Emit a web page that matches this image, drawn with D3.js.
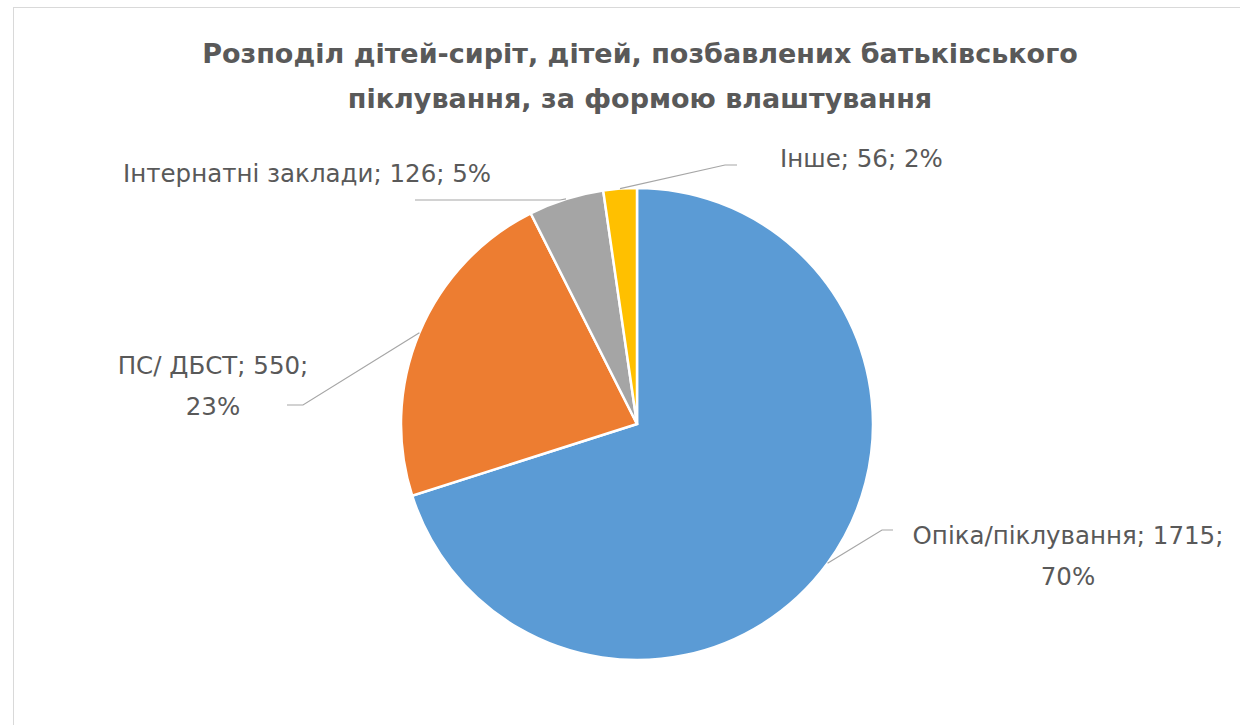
<!DOCTYPE html>
<html>
<head>
<meta charset="utf-8">
<script src="https://cdn.jsdelivr.net/npm/d3@7"></script>
<style>
  body { margin: 0; background: #fff; }
  svg text { font-family: 'DejaVu Sans', 'Open Sans', sans-serif; fill: #595959; }
</style>
</head>
<body>
<div id="graf"></div>
<script>
// Datos
categorias = ['Опіка/піклування', 'ПС/ ДБСТ', 'Інтернатні заклади', 'Інше']
valores    = [1715, 550, 126, 56]
porcentajes = ['70%', '23%', '5%', '2%']
colores    = ['#5B9BD5', '#ED7D31', '#A5A5A5', '#FFC000']
titulo     = ['Розподіл дітей-сиріт, дітей, позбавлених батьківського', 'піклування, за формою влаштування']

ancho_total = 1240
alto_total  = 725
centro = { x: 637, y: 424 }
radio = 236

svg = d3.select('#graf').append('svg')
        .attr('width', ancho_total)
        .attr('height', alto_total)

// Borde del area del grafico
svg.append('rect')
   .attr('x', 13.5).attr('y', 7.5)
   .attr('width', ancho_total).attr('height', alto_total)
   .attr('fill', '#fff')
   .attr('stroke', '#d9d9d9')

// Titulo
svg.append('text')
   .attr('text-anchor', 'middle')
   .style('font-size', '27px')
   .style('font-weight', 'bold')
   .selectAll('tspan')
   .data(titulo)
   .join('tspan')
   .attr('x', 640)
   .attr('y', (d, i) => 63 + i * 45)
   .text(d => d)

datos = categorias.map((c, i) => ({ cat: c, val: valores[i], pct: porcentajes[i], color: colores[i] }))

pie = d3.pie().sort(null).value(d => d.val)
arco = d3.arc().innerRadius(0).outerRadius(radio)
arcos = pie(datos)

g = svg.append('g')
       .attr('transform', `translate(${ centro.x }, ${ centro.y })`)

g.selectAll('path')
 .data(arcos)
 .join('path')
 .attr('d', arco)
 .attr('fill', d => d.data.color)
 .attr('stroke', '#fff')
 .attr('stroke-width', 2.5)

// Etiquetas: posicion del texto y codo de la linea guia (relativo al centro)
etiquetas = [
  { lineas: d => [d.cat + '; ' + d.val + ';', d.pct], x: 431, y: 120, anchor: 'middle', codo: [[245, 106], [256, 106]] },
  { lineas: d => [d.cat + '; ' + d.val + ';', d.pct], x: -424, y: -50, anchor: 'middle', codo: [[-334, -19], [-350, -19]] },
  { lineas: d => [d.cat + '; ' + d.val + '; ' + d.pct], x: -514, y: -242, anchor: 'start', codo: [[-77, -224], [-222, -224]] },
  { lineas: d => [d.cat + '; ' + d.val + '; ' + d.pct], x: 143, y: -257, anchor: 'start', codo: [[88, -259], [100, -259]] }
]

arcos.forEach((a, i) => {
  let e = etiquetas[i]
  let ang = (a.startAngle + a.endAngle) / 2
  let inicio = [radio * Math.sin(ang), -radio * Math.cos(ang)]
  g.append('polyline')
   .attr('points', [inicio].concat(e.codo).map(p => p.join(',')).join(' '))
   .attr('fill', 'none')
   .attr('stroke', '#a6a6a6')
   .attr('stroke-width', 1.2)

  g.append('text')
   .attr('text-anchor', e.anchor)
   .style('font-size', '24.5px')
   .selectAll('tspan')
   .data(e.lineas(a.data))
   .join('tspan')
   .attr('x', e.x)
   .attr('y', (d, j) => e.y + j * 41)
   .text(d => d)
})
</script>
</body>
</html>
